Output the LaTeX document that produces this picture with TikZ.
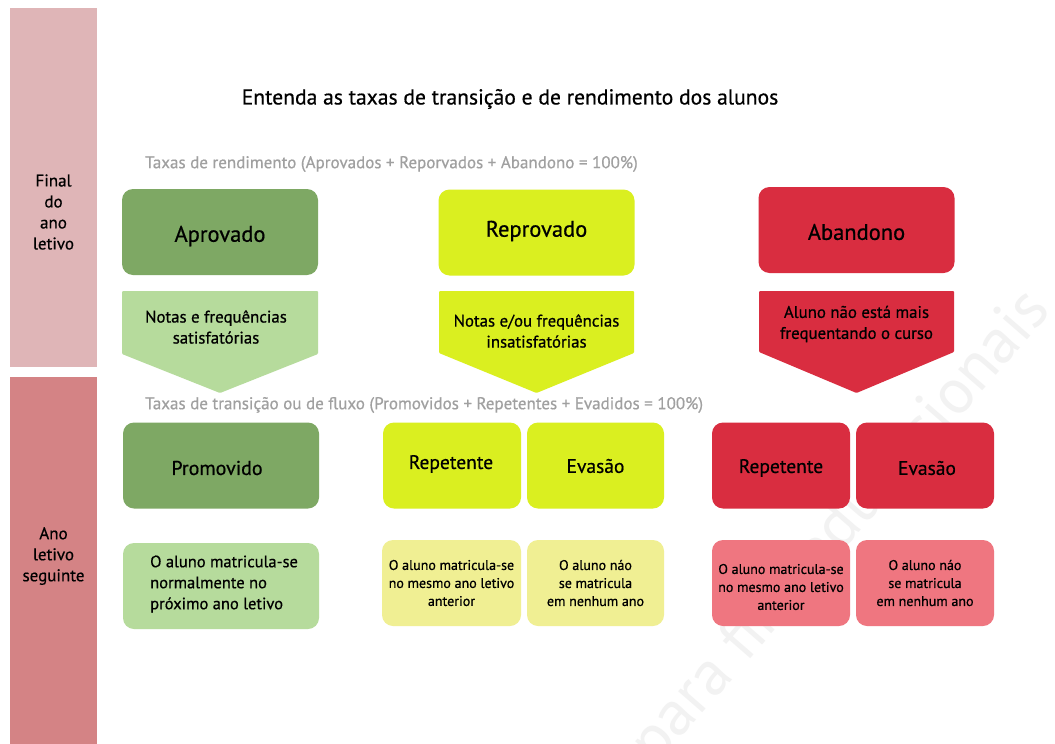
\documentclass[tikz,border=0pt]{standalone}
\usepackage{fontspec}
\setmainfont{PT Sans}[FakeBold=0.6]
\newfontfamily\wmfont{PT Sans}
\definecolor{dgreen}{HTML}{7EA864}
\definecolor{lgreen}{HTML}{B6DB9C}
\definecolor{yel}{HTML}{DAEF20}
\definecolor{lyel}{HTML}{F0EF93}
\definecolor{red1}{HTML}{D92D40}
\definecolor{lred}{HTML}{EF7680}
\definecolor{barA}{HTML}{DFB5B7}
\definecolor{barB}{HTML}{D48385}
\definecolor{gtext}{HTML}{A0A0A0}
\tikzset{
  box/.style={rounded corners=11pt, inner sep=0pt, align=center, text=black},
  bigbox/.style={box, minimum width=196pt, minimum height=86pt},
  halfbox/.style={box, minimum width=138pt, minimum height=86pt},
  bigtitle/.style={inner sep=0pt, font=\fontsize{22.5}{26}\selectfont},
  halftitle/.style={inner sep=0pt, font=\fontsize{19.5}{22}\selectfont},
  halfnote/.style={box, minimum width=138pt, minimum height=86pt, font=\fontsize{14}{18}\selectfont},
  arrowtext/.style={align=center, font=\fontsize{16.8}{21}\selectfont, inner sep=0pt},
  sidelabel/.style={align=center, font=\fontsize{17}{21}\selectfont, inner sep=0pt},
  caption/.style={anchor=west, text=gtext, font=\fontsize{17}{20}\selectfont, inner sep=0pt},
}
\begin{document}
\begin{tikzpicture}[x=1pt,y=-1pt]
\useasboundingbox (0,0) rectangle (1055,744);
\fill[white] (0,0) rectangle (1055,744);
% watermark
\begin{scope}
\clip (0,0) rectangle (1055,744);
\node[rotate=49, text=black!5, font=\wmfont\fontsize{64}{70}\selectfont] (wm) at (842,528) {para fins educacionais};
\end{scope}
% side bars
\node[fill=barA, minimum width=87pt, minimum height=359pt, inner sep=0pt] (barfinal) at (53.5,187.5) {};
\node[fill=barB, minimum width=87pt, minimum height=367pt, inner sep=0pt] (barseg) at (53.5,560.5) {};
\node[sidelabel] (lfinal) at (53.5,212) {Final\\do\\ano\\letivo};
\node[sidelabel] (lseg) at (53.5,556) {Ano\\letivo\\seguinte};
% title
\node[font=\fontsize{21.6}{24}\selectfont, inner sep=0pt] (title) at (510,99) {Entenda as taxas de transição e de rendimento dos alunos};
\node[caption] (cap1) at (145,164) {Taxas de rendimento (Aprovados + Reporvados + Abandono = 100\%)};
\node[caption] (cap2) at (145,405) {Taxas de transição ou de fluxo (Promovidos + Repetentes + Evadidos = 100\%)};
% top boxes
\node[bigbox, fill=dgreen] (aprov) at (220,232) {};
\node[bigtitle] (aprovt) at (220,236) {Aprovado};
\node[bigbox, fill=yel] (reprov) at (536.5,232.5) {};
\node[bigtitle] (reprovt) at (536.5,231) {Reprovado};
\node[bigbox, fill=red1] (aband) at (856.5,230) {};
\node[bigtitle] (abandt) at (856.5,232) {Abandono};
% arrow shapes
\fill[lgreen, rounded corners=1pt] (122,291) -- (318,291) -- (318,354) -- (220,393) -- (122,354) -- cycle;
\fill[yel, rounded corners=1pt] (439,291) -- (634,291) -- (634,353) -- (536.5,393) -- (439,353) -- cycle;
\fill[red1, rounded corners=1pt] (759,291) -- (954,291) -- (954,352) -- (856.5,393) -- (759,352) -- cycle;
\node[arrowtext] (n1) at (216,327) {Notas e frequências\\satisfatórias};
\node[arrowtext] (n2) at (536.5,331) {Notas e/ou frequências\\insatisfatórias};
\node[arrowtext] (n3) at (856.5,324) {Aluno não está mais\\frequentando o curso};
% second row
\node[bigbox, fill=dgreen] (prom) at (221,465.5) {};
\node[inner sep=0pt, font=\fontsize{20}{24}\selectfont] (promt) at (217,468) {Promovido};
\node[halfbox, fill=yel] (yrep) at (452,465.5) {};
\node[halftitle] (yrept) at (451,464) {Repetente};
\node[halfbox, fill=yel, minimum width=137pt] (yeva) at (595.5,465.5) {};
\node[halftitle] (yevat) at (595.5,466) {Evasão};
\node[halfbox, fill=red1] (rrep) at (781,465.5) {};
\node[halftitle] (rrept) at (781,468) {Repetente};
\node[halfbox, fill=red1] (reva) at (925,465.5) {};
\node[halftitle] (revat) at (927,468) {Evasão};
% third row
\node[box, fill=lgreen, minimum width=196pt, minimum height=86pt] (promn) at (221,586) {};
\node[anchor=west, align=left, font=\fontsize{16.5}{21}\selectfont, inner sep=0pt] (promnt) at (150,584) {O aluno matricula-se\\normalmente no\\próximo ano letivo};
\node[halfnote, fill=lyel, minimum width=139pt] (yrepn) at (451.5,583) {O aluno matricula-se\\no mesmo ano letivo\\anterior};
\node[halfnote, fill=lyel, minimum width=137pt] (yevan) at (595.5,583) {O aluno náo\\se matricula\\em nenhum ano};
\node[halfnote, fill=lred] (rrepn) at (781,583) {};
\node[align=center, font=\fontsize{14}{18}\selectfont, inner sep=0pt] (rrepnt) at (781,587) {O aluno matricula-se\\no mesmo ano letivo\\anterior};
\node[halfnote, fill=lred] (revan) at (925,583) {O aluno náo\\se matricula\\em nenhum ano};
\end{tikzpicture}
\end{document}
